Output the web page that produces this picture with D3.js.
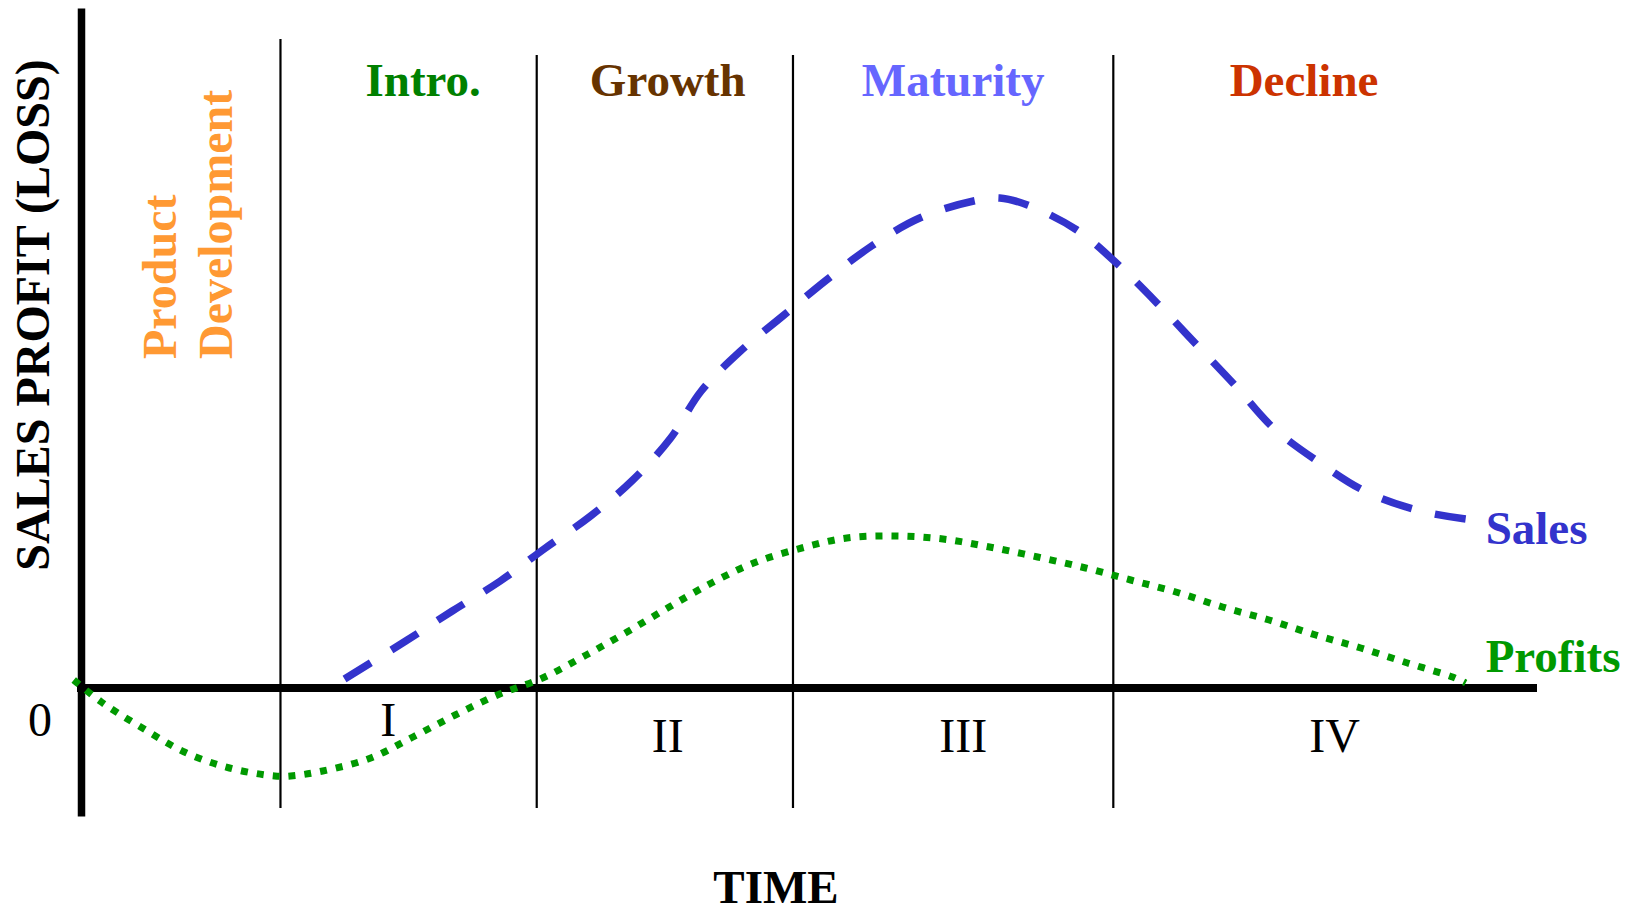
<!DOCTYPE html>
<html><head><meta charset="utf-8">
<script src="https://cdn.jsdelivr.net/npm/d3@7"></script>
<style>
html,body{margin:0;padding:0;background:#fff;}
svg{display:block;}
text{font-family:"Liberation Serif","Times New Roman",serif;}
</style>
</head><body>
<svg id="chart" width="1638" height="907"></svg>
<script>
// ---- data ----
const stages = ["Intro.", "Growth", "Maturity", "Decline"];
const stageNumerals = ["I", "II", "III", "IV"];
const stageStart = [13.7, 31.3, 48.9, 70.9];          // time where each stage begins
const stageLabelTime = [23.5, 40.3, 59.9, 84.0];
const numeralTime = [21.1, 40.3, 60.6, 86.1];
const numeralValue = [-9.6, -12.8, -12.8, -12.8];

const salesTime  = [18.1, 22.3, 25.5, 28.8, 31.9, 35.0, 37.9, 40.5, 42.6, 45.3, 48.2, 51.2, 54.3, 57.6, 61.3, 63.1, 65.0, 68.4, 71.4, 74.1, 76.7, 79.3, 81.9, 85.0, 88.3, 92.0, 95.1];
const salesValue = [1.8, 9.4, 15.4, 21.4, 28.0, 34.4, 41.6, 50.0, 59.4, 67.4, 74.4, 81.6, 88.4, 94.0, 97.4, 98.0, 96.6, 91.6, 84.2, 76.4, 68.4, 60.4, 52.0, 45.2, 39.2, 35.4, 33.8];

const profitsTime  = [-0.5, 1.4, 4.1, 7.1, 10.2, 13.3, 14.4, 16.6, 19.9, 22.8, 25.7, 28.6, 31.7, 34.7, 37.5, 40.4, 43.3, 46.2, 49.5, 52.6, 55.9, 59.2, 62.4, 65.7, 69.0, 72.1, 75.2, 78.4, 81.6, 84.8, 87.9, 91.1, 94.2, 95.1];
const profitsValue = [1.6, -2.8, -7.8, -12.8, -16.0, -17.6, -17.6, -16.6, -14.0, -9.8, -5.4, -1.4, 2.0, 6.6, 11.2, 16.2, 21.0, 25.0, 28.0, 30.0, 30.4, 29.8, 28.2, 26.2, 24.0, 21.6, 19.2, 16.2, 13.6, 10.6, 8.0, 5.0, 2.2, 1.0];

const seriesNames = ["Sales", "Profits"];
const zeroLabel = "0";
const xTitle = "TIME";
const yTitle = "SALES PROFIT (LOSS)";
const devLabel = ["Product", "Development"];

// ---- layout ----
const svg = d3.select("#chart");
const x = d3.scaleLinear().domain([0, 100]).range([81, 1537]);
const y = d3.scaleLinear().domain([0, 100]).range([688, 188]);
const yAxisMin = -25.6, yAxisMax = 136;

// dividers
const dividers = svg.append("g");
stageStart.forEach((t, i) => {
  dividers.append("line")
    .attr("x1", x(t)).attr("x2", x(t))
    .attr("y1", y(-24)).attr("y2", y(i === 0 ? 129.8 : 126.6))
    .attr("stroke", "#000").attr("stroke-width", 2.2);
});

// x axis (baseline)
const xAxis = svg.append("g")
  .attr("transform", `translate(0,${y(0)})`)
  .call(d3.axisBottom(x).tickValues([]).tickSizeOuter(0));
xAxis.select(".domain").attr("stroke", "#000").attr("stroke-width", 8);
xAxis.select(".domain").attr("d", `M${x(0) - 4},0H${x(100)}`);

// y axis
const yAx = d3.scaleLinear().domain([yAxisMin, yAxisMax]).range([y(yAxisMin), y(yAxisMax)]);
const yAxis = svg.append("g")
  .attr("transform", `translate(${x(0)},0)`)
  .call(d3.axisLeft(yAx).tickValues([]).tickSizeOuter(0));
yAxis.select(".domain").attr("stroke", "#000").attr("stroke-width", 7.5);

// lines
const line = d3.line().x(d => x(d[0])).y(d => y(d[1])).curve(d3.curveCatmullRom.alpha(0.5));
const salesData = salesTime.map((t, i) => [t, salesValue[i]]);
const profitsData = profitsTime.map((t, i) => [t, profitsValue[i]]);

svg.append("path").datum(profitsData)
  .attr("d", line).attr("fill", "none")
  .attr("stroke", "#009900").attr("stroke-width", 7)
  .attr("stroke-dasharray", "7 9");

svg.append("path").datum(salesData)
  .attr("d", line).attr("fill", "none")
  .attr("stroke", "#3333CC").attr("stroke-width", 7.5)
  .attr("stroke-dasharray", "31 24");

// stage labels
const stageColors = ["#008000", "#663300", "#6666FF", "#CC3300"];
stages.forEach((s, i) => {
  svg.append("text")
    .attr("x", x(stageLabelTime[i])).attr("y", y(118.4))
    .attr("text-anchor", "middle")
    .attr("font-size", 47).attr("font-weight", "bold")
    .attr("fill", stageColors[i]).text(s);
  svg.append("text")
    .attr("x", x(numeralTime[i])).attr("y", y(numeralValue[i]))
    .attr("text-anchor", "middle")
    .attr("font-size", 48)
    .attr("fill", "#000").text(stageNumerals[i]);
});

// zero label
svg.append("text").attr("x", x(0) - 41).attr("y", y(-9.6))
  .attr("text-anchor", "middle").attr("font-size", 48).attr("fill", "#000").text(zeroLabel);

// series labels
const sEnd = salesData[salesData.length - 1];
const pEnd = profitsData[profitsData.length - 1];
svg.append("text").attr("x", x(sEnd[0]) + 20).attr("y", y(sEnd[1]) + 25)
  .attr("font-size", 47).attr("font-weight", "bold").attr("fill", "#3333CC").text(seriesNames[0]);
svg.append("text").attr("x", x(pEnd[0]) + 20).attr("y", y(pEnd[1]) - 11)
  .attr("font-size", 47).attr("font-weight", "bold").attr("fill", "#009900").text(seriesNames[1]);

// axis titles
svg.append("text").attr("x", 776).attr("y", 903)
  .attr("text-anchor", "middle").attr("font-size", 47).attr("font-weight", "bold")
  .attr("fill", "#000").text(xTitle);
svg.append("text").attr("transform", "translate(49,315) rotate(-90)")
  .attr("text-anchor", "middle").attr("font-size", 48).attr("font-weight", "bold")
  .attr("fill", "#000").text(yTitle);

// product development label
svg.append("text").attr("transform", "translate(176,359) rotate(-90)")
  .attr("font-size", 48).attr("font-weight", "bold").attr("fill", "#FF9933").text(devLabel[0]);
svg.append("text").attr("transform", "translate(232,359) rotate(-90)")
  .attr("font-size", 48).attr("font-weight", "bold").attr("fill", "#FF9933").text(devLabel[1]);
</script>
</body></html>
